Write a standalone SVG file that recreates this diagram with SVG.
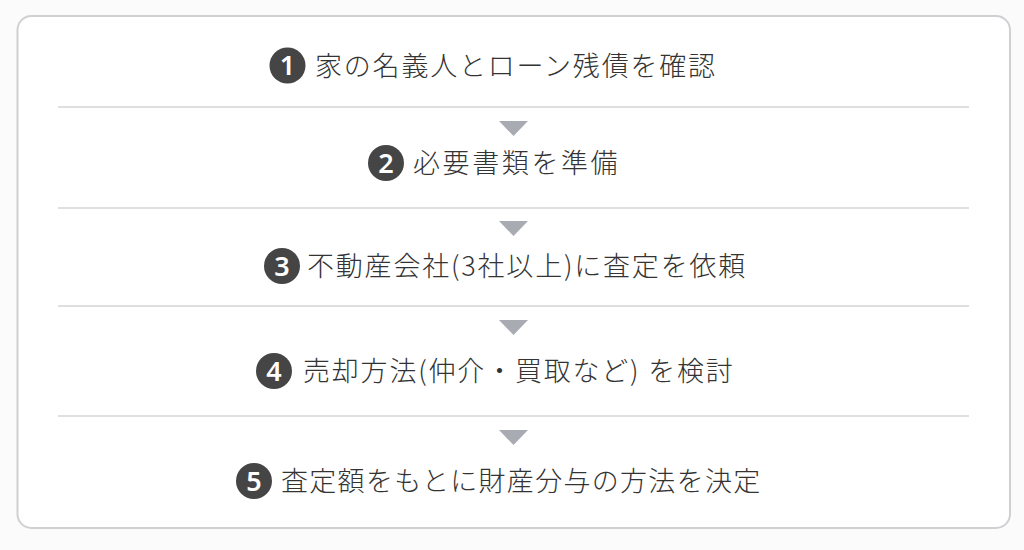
<svg xmlns="http://www.w3.org/2000/svg" width="1024" height="550" viewBox="0 0 1024 550">
<style>
.t{font-family:"Noto Sans CJK JP","Noto Sans",sans-serif;font-size:27px;font-weight:300;fill:#333;letter-spacing:1.8px}
.n{font-family:"Noto Sans","Liberation Sans",sans-serif;font-size:27px;font-weight:600;fill:#fff;text-anchor:middle}
.c{fill:#454545}
.d{stroke:#d4d4d8;stroke-width:1.5}
.a{fill:#a9abb3}
</style>
<rect x="0" y="0" width="1024" height="550" fill="#fbfbfb"/>
<rect x="17.5" y="16" width="992.5" height="512" rx="14" fill="#fff" stroke="#d0d0d4" stroke-width="2"/>
<g id="connectors">
<line class="d" x1="58" y1="107" x2="969" y2="107"/>
<path class="a" d="M499 121 L528 121 L513.5 136 Z"/>
<line class="d" x1="58" y1="208" x2="969" y2="208"/>
<path class="a" d="M499 221 L528 221 L513.5 236 Z"/>
<line class="d" x1="58" y1="306" x2="969" y2="306"/>
<path class="a" d="M499 320 L528 320 L513.5 335 Z"/>
<line class="d" x1="58" y1="416" x2="969" y2="416"/>
<path class="a" d="M499 430 L528 430 L513.5 445 Z"/>
</g>
<g id="step1">
<circle class="c" cx="287.5" cy="65.5" r="18"/>
<text class="n" x="287.5" y="75">1</text>
<text class="t" x="315" y="75.5">家の名義人とローン残債を確認</text>
</g>
<g id="step2">
<circle class="c" cx="386" cy="163" r="18"/>
<text class="n" x="386" y="172.5">2</text>
<text class="t" x="413" y="173" style="letter-spacing:2.6px">必要書類を準備</text>
</g>
<g id="step3">
<circle class="c" cx="282" cy="266" r="18"/>
<text class="n" x="282" y="275.5">3</text>
<text class="t" x="307" y="276">不動産会社(3社以上)に査定を依頼</text>
</g>
<g id="step4">
<circle class="c" cx="274" cy="371" r="18"/>
<text class="n" x="274" y="380.5">4</text>
<text class="t" x="303" y="381">売却方法(仲介・買取など) を検討</text>
</g>
<g id="step5">
<circle class="c" cx="254" cy="481" r="18"/>
<text class="n" x="254" y="490.5">5</text>
<text class="t" x="281" y="491" style="letter-spacing:1.3px">査定額をもとに財産分与の方法を決定</text>
</g>
</svg>
